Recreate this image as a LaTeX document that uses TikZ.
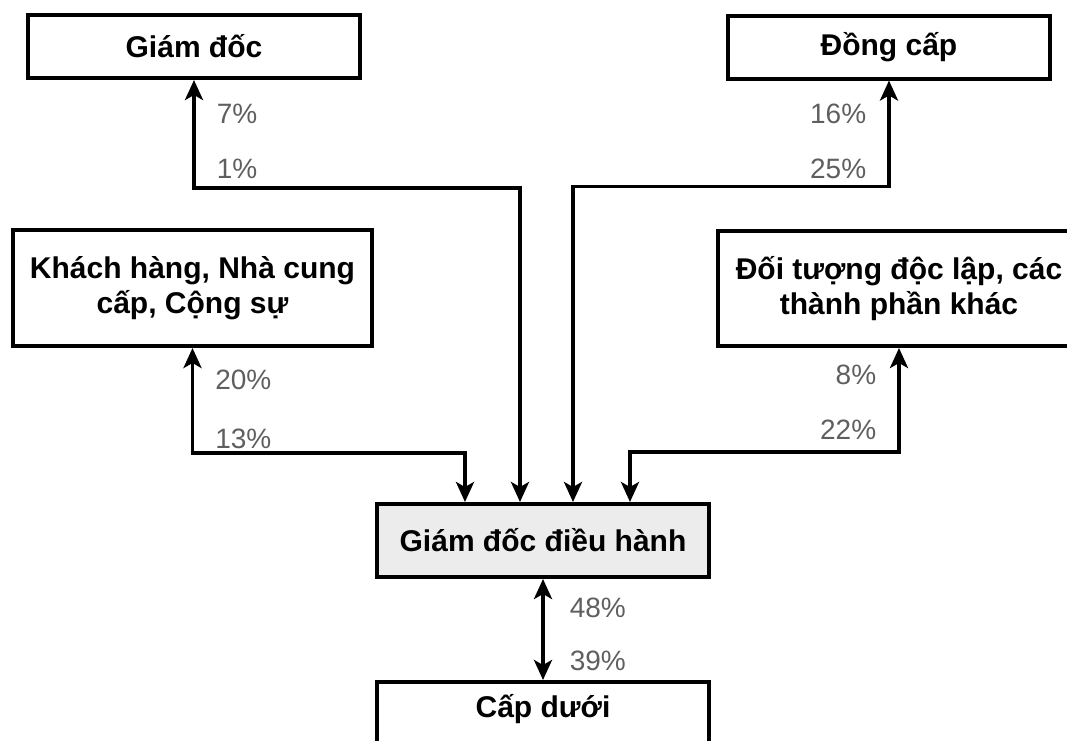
\documentclass[tikz,border=0pt]{standalone}
\usepackage{fontspec}
\setmainfont{Liberation Sans}
\usetikzlibrary{arrows.meta,calc}
\definecolor{boxgray}{RGB}{236,236,236}
\definecolor{pctgray}{RGB}{95,95,95}

\begin{document}
\begin{tikzpicture}[
    x=0.5pt, y=-0.5pt,
    box/.style={draw, line width=2pt, minimum width=166pt, minimum height=31.5pt, align=center, inner sep=2pt, font=\fontsize{15}{17.5}\selectfont\bfseries},
    ceobox/.style={box, fill=boxgray, minimum height=36.5pt},
    pct/.style={font=\fontsize{14}{16}\selectfont, text=pctgray, inner sep=0pt},
    pctR/.style={pct, anchor=west, xshift=10.5pt},
    pctL/.style={pct, anchor=east, xshift=-10.5pt},
    arrow/.style={<->, >={Stealth[length=10pt,width=9pt,inset=2.5pt]}, line width=1.8pt}
]
\useasboundingbox (0,0) rectangle (1067,740);
\clip (0,0) rectangle (1067,740);

% Top row
\node[box] (director) at (194,46.5) {Giám đốc};
\node[box, minimum width=161pt] (peers) at (889,47) {Đồng cấp};

% Middle row
\node[box, minimum width=179.5pt, minimum height=58pt] (clients) at (192.5,288) {Khách hàng, Nhà cung\\cấp, Cộng sự};
\node[box, minimum width=181pt, minimum height=57.5pt] (others) at (899,288.5) {Đối tượng độc lập, các\\thành phần khác};

% Center
\node[ceobox] (ceo) at (543,540.5) {Giám đốc điều hành};
\node[box, anchor=north, minimum height=36.5pt, text height=14pt, text depth=15.5pt] (staff) at (543,680) {Cấp dưới};

% Arrows - to the center
\draw[arrow] (director.south) -- node[pctR, pos=.31] {7\%} node[pctR, pos=.82] {1\%} ++(0,108) -| ($(ceo.north)+(-23,0)$);
\draw[arrow] (peers.south) -- node[pctL, pos=.31] {16\%} node[pctL, pos=.83] {25\%} ++(0,106) -| ($(ceo.north)+(30,0)$);
\draw[arrow] (clients.south) -- node[pctR, pos=.30] {20\%} node[pctR, pos=.87] {13\%} ++(0,105) -| ($(ceo.north)+(-78,0)$);
\draw[arrow] (others.south) -- node[pctL, pos=.26] {8\%} node[pctL, pos=.79] {22\%} ++(0,104) -| ($(ceo.north)+(87,0)$);

% Arrows - down
\draw[arrow] (ceo.south) -- node[pctR, xshift=2pt, pos=.29] {48\%} node[pctR, xshift=2pt, pos=.81] {39\%} (staff.north);

\end{tikzpicture}
\end{document}
